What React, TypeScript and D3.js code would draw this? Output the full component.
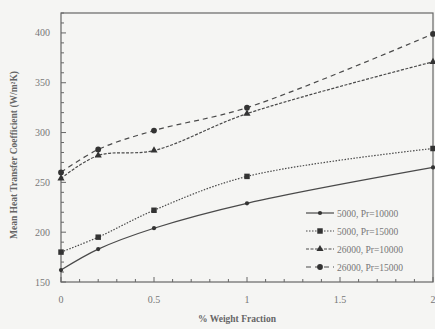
import React, { useEffect, useRef } from "react";
import * as d3 from "d3";

const xValues = [0, 0.2, 0.5, 1, 2];
const s5000Pr10000 = [162, 183, 204, 229, 265];
const s5000Pr15000 = [180, 195, 222, 256, 284];
const s26000Pr10000 = [254, 277, 282, 319, 371];
const s26000Pr15000 = [260, 283, 302, 325, 399];
const seriesNames = ["5000, Pr=10000", "5000, Pr=15000", "26000, Pr=10000", "26000, Pr=15000"];
const xTicks = [0, 0.5, 1, 1.5, 2];
const yTicks = [150, 200, 250, 300, 350, 400];

const App = () => {
  const svgRef = useRef<SVGSVGElement>(null);

  useEffect(() => {
    const svg = d3.select(svgRef.current);
    svg.selectAll("*").remove();

    const width = 435;
    const height = 329;
    const m = { left: 61, right: 433, top: 13, bottom: 282 };
    const ink = "#4a4a4a";
    const textColor = "#777";

    svg.append("rect").attr("width", width).attr("height", height).attr("fill", "#f5f5f3");

    const x = d3.scaleLinear().domain([0, 2]).range([m.left, m.right]);
    const y = d3.scaleLinear().domain([150, 420]).range([m.bottom, m.top]);

    // frame
    svg.append("rect")
      .attr("x", m.left).attr("y", m.top)
      .attr("width", m.right - m.left).attr("height", m.bottom - m.top)
      .attr("fill", "none").attr("stroke", "#666").attr("stroke-width", 1.2);

    // minor + major ticks, inward
    const xMinor = d3.range(0, 2.001, 0.1);
    svg.append("g").selectAll("line").data(xMinor).join("line")
      .attr("x1", d => x(d)).attr("x2", d => x(d))
      .attr("y1", m.bottom).attr("y2", (d, i) => m.bottom - (i % 5 === 0 ? 5 : 3))
      .attr("stroke", "#666");
    const yMinor = d3.range(150, 420.01, 10);
    svg.append("g").selectAll("line").data(yMinor).join("line")
      .attr("y1", d => y(d)).attr("y2", d => y(d))
      .attr("x1", m.left).attr("x2", (d, i) => m.left + (i % 5 === 0 ? 5 : 3))
      .attr("stroke", "#666");

    // tick labels
    svg.append("g").selectAll("text").data(xTicks).join("text")
      .attr("x", d => x(d)).attr("y", 303)
      .attr("text-anchor", "middle")
      .attr("font-family", "Liberation Serif, serif").attr("font-size", 10)
      .attr("fill", textColor)
      .text(d => String(d));
    svg.append("g").selectAll("text").data(yTicks).join("text")
      .attr("x", 50).attr("y", d => y(d) + 3.5)
      .attr("text-anchor", "end")
      .attr("font-family", "Liberation Serif, serif").attr("font-size", 10)
      .attr("fill", textColor)
      .text(d => String(d));

    // axis titles
    svg.append("text")
      .attr("x", (m.left + m.right) / 2 - 10).attr("y", 322)
      .attr("text-anchor", "middle")
      .attr("font-family", "Liberation Serif, serif").attr("font-size", 9.5)
      .attr("font-weight", "bold").attr("fill", "#666")
      .text("% Weight Fraction");
    svg.append("text")
      .attr("transform", "translate(17,155) rotate(-90)")
      .attr("text-anchor", "middle")
      .attr("font-family", "Liberation Serif, serif").attr("font-size", 9.5)
      .attr("font-weight", "bold").attr("fill", "#666")
      .text("Mean Heat Transfer Coefficient (W/m²K)");

    const series = [
      { values: s5000Pr10000, dash: null, symbol: d3.symbolCircle, size: 14 },
      { values: s5000Pr15000, dash: "1.5,1.5", symbol: d3.symbolSquare, size: 30 },
      { values: s26000Pr10000, dash: "3,1.5", symbol: d3.symbolTriangle, size: 22 },
      { values: s26000Pr15000, dash: "5,4", symbol: d3.symbolCircle, size: 26 },
    ];

    const line = d3.line<number>()
      .x((d, i) => x(xValues[i]))
      .y(d => y(d))
      .curve(d3.curveCatmullRom.alpha(0.5));

    series.forEach(s => {
      svg.append("path")
        .attr("d", line(s.values))
        .attr("fill", "none")
        .attr("stroke", ink)
        .attr("stroke-width", 1.2)
        .attr("stroke-dasharray", s.dash);
      svg.append("g").selectAll("path").data(s.values).join("path")
        .attr("transform", (d, i) => `translate(${x(xValues[i])},${y(d)})`)
        .attr("d", d3.symbol().type(s.symbol).size(s.size)())
        .attr("fill", "#333");
    });

    // legend
    const legend = svg.append("g");
    series.forEach((s, i) => {
      const ly = 213 + i * 18;
      legend.append("line")
        .attr("x1", 306).attr("x2", 334).attr("y1", ly).attr("y2", ly)
        .attr("stroke", ink).attr("stroke-width", 1.2)
        .attr("stroke-dasharray", s.dash);
      legend.append("path")
        .attr("transform", `translate(320,${ly})`)
        .attr("d", d3.symbol().type(s.symbol).size(s.size)())
        .attr("fill", "#333");
      legend.append("text")
        .attr("x", 337).attr("y", ly + 3.5)
        .attr("font-family", "Liberation Serif, serif").attr("font-size", 9.5)
        .attr("fill", textColor)
        .text(seriesNames[i]);
    });
  }, []);

  return (
    <div style={{ position: "absolute", left: 0, top: 0 }}>
      <svg ref={svgRef} width={435} height={329} style={{ display: "block" }}></svg>
    </div>
  );
};

export default App;
